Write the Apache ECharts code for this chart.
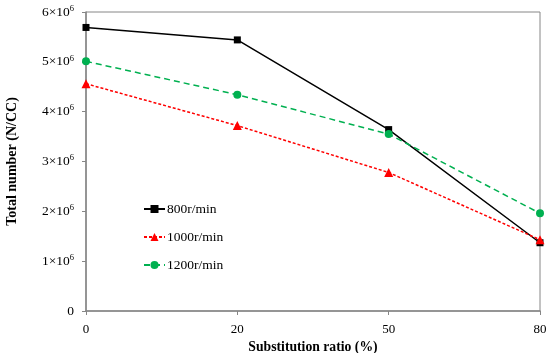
<!DOCTYPE html>
<html><head><meta charset="utf-8">
<script src="https://cdn.jsdelivr.net/npm/echarts@6/dist/echarts.min.js"></script>
<style>html,body{margin:0;padding:0;background:#fff}#c{width:550px;height:353px}</style>
</head><body><div id="c"></div>
<script>
const categories = ['0', '20', '50', '80'];
const s800 = [5.69e6, 5.44e6, 3.64e6, 1.37e6];
const s1000 = [4.56e6, 3.72e6, 2.78e6, 1.43e6];
const s1200 = [5.01e6, 4.34e6, 3.55e6, 1.96e6];
const yTickLabels = ['0', '1×10^6', '2×10^6', '3×10^6', '4×10^6', '5×10^6', '6×10^6'];
const seriesNames = ['800r/min', '1000r/min', '1200r/min'];

const font = '"Liberation Serif", "Times New Roman", serif';
const axisGray = '#868686';
const chart = echarts.init(document.getElementById('c'));
chart.setOption({
  animation: false,
  backgroundColor: '#fff',
  textStyle: {fontFamily: font},
  grid: {left: 86, right: 10, top: 12, bottom: 42, show: true, borderColor: axisGray, borderWidth: 1,
         containLabel: false, outerBoundsMode: 'none'},
  legend: {
    orient: 'vertical', left: 138, top: 197, itemWidth: 21, itemHeight: 10, itemGap: 14,
    textStyle: {fontFamily: font, fontSize: 13.5, color: '#000', padding: [0, 0, 0, -3]},
    data: seriesNames
  },
  xAxis: {
    type: 'category', data: categories, boundaryGap: false,
    name: 'Substitution ratio (%)', nameLocation: 'middle', nameGap: 28,
    nameTextStyle: {fontFamily: font, fontSize: 13.7, fontWeight: 'bold', color: '#000'},
    axisLine: {lineStyle: {color: axisGray, width: 1.5}},
    axisTick: {show: true, length: 4, lineStyle: {color: axisGray}, alignWithLabel: true},
    axisLabel: {fontFamily: font, fontSize: 13, color: '#000', margin: 12},
    splitLine: {show: false}
  },
  yAxis: {
    type: 'value', min: 0, max: 6e6, interval: 1e6,
    name: 'Total number (N/CC)', nameLocation: 'middle', nameGap: 67,
    nameTextStyle: {fontFamily: font, fontSize: 14, fontWeight: 'bold', color: '#000'},
    axisLine: {show: true, lineStyle: {color: axisGray, width: 1.5}},
    axisTick: {show: true, length: 4, lineStyle: {color: axisGray}},
    splitLine: {show: false},
    axisLabel: {
      margin: 12, color: '#000',
      formatter: function (v) {
        const s = yTickLabels[Math.round(v / 1e6)];
        const p = s.split('^');
        if (p.length === 1) return '{a|' + p[0] + '}';
        return '{a|' + p[0] + '}{b|' + p[1] + '}';
      },
      rich: {
        a: {fontFamily: font, fontSize: 13.5, color: '#000'},
        b: {fontFamily: font, fontSize: 8.5, color: '#000', padding: [0, 0, 7, 0]}
      }
    }
  },
  series: [
    {name: seriesNames[0], type: 'line', data: s800, symbol: 'rect', symbolSize: 7,
     itemStyle: {color: '#000'}, lineStyle: {color: '#000', width: 1.5, type: 'solid'}},
    {name: seriesNames[1], type: 'line', data: s1000, symbol: 'triangle', symbolSize: 9,
     itemStyle: {color: '#ff0000'}, lineStyle: {color: '#ff0000', width: 1.5, type: [3, 2]}},
    {name: seriesNames[2], type: 'line', data: s1200, symbol: 'circle', symbolSize: 8,
     itemStyle: {color: '#00b050'}, lineStyle: {color: '#00b050', width: 1.5, type: [6, 4]}}
  ]
});
</script></body></html>
